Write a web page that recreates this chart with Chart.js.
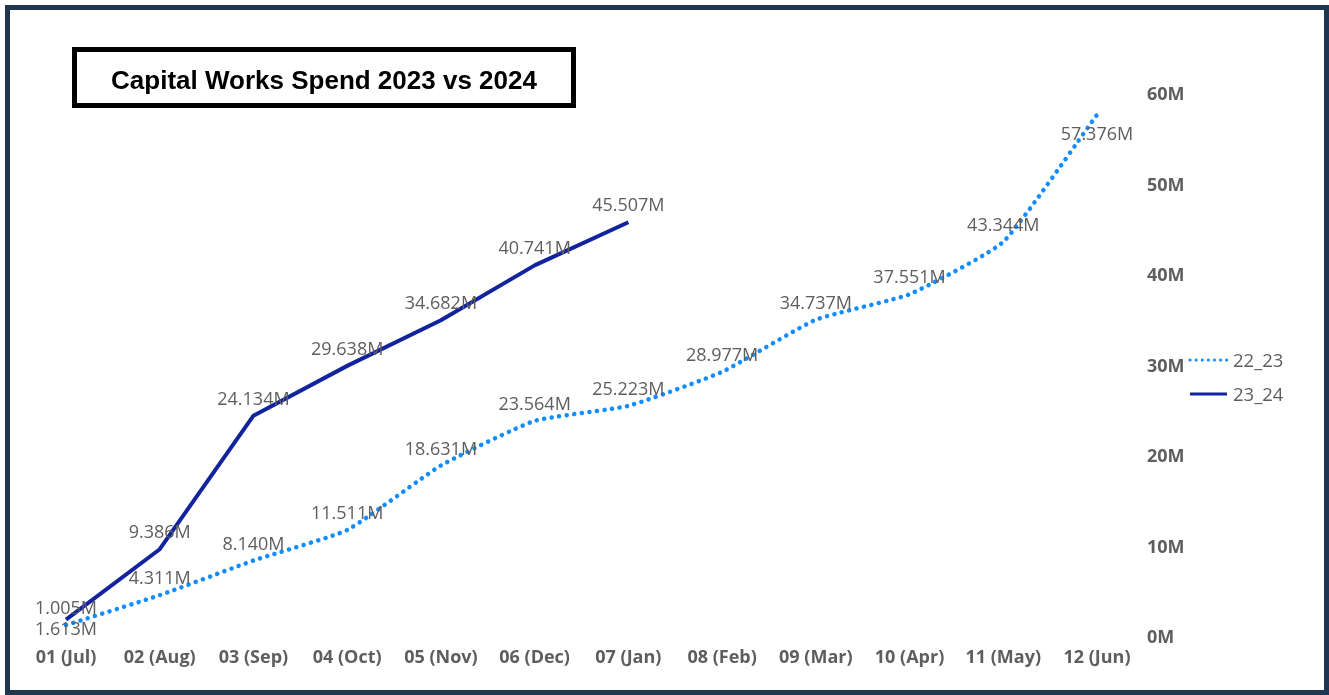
<!DOCTYPE html>
<html>
<head>
<meta charset="utf-8">
<script src="https://cdn.jsdelivr.net/npm/chart.js@4.4.1/dist/chart.umd.min.js"></script>
<style>
  html, body { margin: 0; padding: 0; background: #fff; }
  #wrap { position: relative; width: 1329px; height: 695px; overflow: hidden; }
  #frame { position: absolute; left: 5px; top: 5px; width: 1314px; height: 680px; border: 5px solid #1F3550; }
  #title { position: absolute; left: 72px; top: 47px; width: 494px; height: 51px; border: 5px solid #000;
    font: bold 26px "Liberation Sans", Arial, sans-serif; color: #000; text-align: center; line-height: 56px; }
  canvas { position: absolute; left: 0; top: 0; }
</style>
</head>
<body>
<div id="wrap">
  <canvas id="myChart" width="1329" height="695"></canvas>
  <div id="frame"></div>
  <div id="title">Capital Works Spend 2023 vs 2024</div>
</div>
<script>
const months = ['01 (Jul)', '02 (Aug)', '03 (Sep)', '04 (Oct)', '05 (Nov)', '06 (Dec)',
  '07 (Jan)', '08 (Feb)', '09 (Mar)', '10 (Apr)', '11 (May)', '12 (Jun)'];
const spend2223 = [1.005, 4.311, 8.140, 11.511, 18.631, 23.564, 25.223, 28.977, 34.737, 37.551, 43.344, 57.376];
const spend2324 = [1.613, 9.386, 24.134, 29.638, 34.682, 40.741, 45.507];
const yTicks = [0, 10, 20, 30, 40, 50, 60];
// where each value label sits relative to its point
const labelSide2223 = ['up', 'up', 'up', 'up', 'up', 'up', 'up', 'up', 'up', 'up', 'up', 'down'];
const labelSide2324 = ['under', 'up', 'up', 'up', 'up', 'up', 'up'];
const sideShift = { up: -16, down: 20, under: 10 };

const grayText = '#605E5C';
const fontFam = '"Open Sans", "Noto Sans", sans-serif';

const valueLabels = {
  id: 'valueLabels',
  afterDatasetsDraw(chart) {
    const c = chart.ctx;
    c.save();
    c.font = '18px ' + fontFam;
    c.fillStyle = grayText;
    c.textAlign = 'center';
    c.textBaseline = 'middle';
    chart.data.datasets.forEach((ds, di) => {
      const meta = chart.getDatasetMeta(di);
      meta.data.forEach((pt, i) => {
        c.fillText(ds.data[i].toFixed(3) + 'M', pt.x, pt.y + sideShift[ds.labelSide[i]]);
      });
    });
    c.restore();
  }
};

const sideLegend = {
  id: 'sideLegend',
  afterDraw(chart) {
    const c = chart.ctx;
    const rows = [360, 394];
    c.save();
    chart.data.datasets.forEach((ds, di) => {
      const y = rows[di];
      c.beginPath();
      c.strokeStyle = ds.borderColor;
      c.lineWidth = 3;
      c.lineCap = ds.borderCapStyle || 'butt';
      c.setLineDash(di === 0 ? [0.1, 6] : []);
      c.moveTo(1190, y);
      c.lineTo(1227, y);
      c.stroke();
      c.setLineDash([]);
      c.font = '18.5px ' + fontFam;
      c.fillStyle = grayText;
      c.textAlign = 'left';
      c.textBaseline = 'middle';
      c.fillText(ds.label, 1233, y + 2);
    });
    c.restore();
  }
};

const ctx = document.getElementById('myChart');

const cfg = {
  type: 'line',
  data: {
    labels: months,
    datasets: [{
      label: '22_23',
      data: spend2223,
      labelSide: labelSide2223,
      borderColor: '#118DFF',
      borderWidth: 4.5,
      borderDash: [0.1, 7.5],
      borderCapStyle: 'round',
      tension: 0.15,
      pointRadius: 0
    }, {
      label: '23_24',
      data: spend2324,
      labelSide: labelSide2324,
      borderColor: '#12239E',
      borderWidth: 4,
      borderCapStyle: 'butt',
      borderJoinStyle: 'round',
      tension: 0,
      pointRadius: 0
    }]
  },
  options: {
    responsive: false,
    animation: false,
    layout: { padding: { left: 66, top: 91, right: 0, bottom: 0 } },
    plugins: { legend: { display: false }, tooltip: { enabled: false } },
    scales: {
      x: {
        offset: false,
        grid: { display: false, drawTicks: false },
        border: { display: false },
        ticks: { color: grayText, font: { family: fontFam, size: 18, weight: 'bold' }, padding: 13, maxRotation: 0, autoSkip: false },
        afterFit(scale) { scale.height = 58; }
      },
      y: {
        position: 'right',
        min: 0,
        max: 60,
        afterBuildTicks(scale) { scale.ticks = yTicks.map(v => ({ value: v })); },
        grid: { display: false, drawTicks: false },
        border: { display: false },
        ticks: { color: grayText, font: { family: fontFam, size: 18, weight: 'bold' }, padding: 50,
          labelOffset: 4, callback: v => v + 'M' },
        afterFit(scale) { scale.width = 232; }
      }
    }
  },
  plugins: [valueLabels, sideLegend]
};

let cht = new Chart(ctx, cfg);
</script>
</body>
</html>
